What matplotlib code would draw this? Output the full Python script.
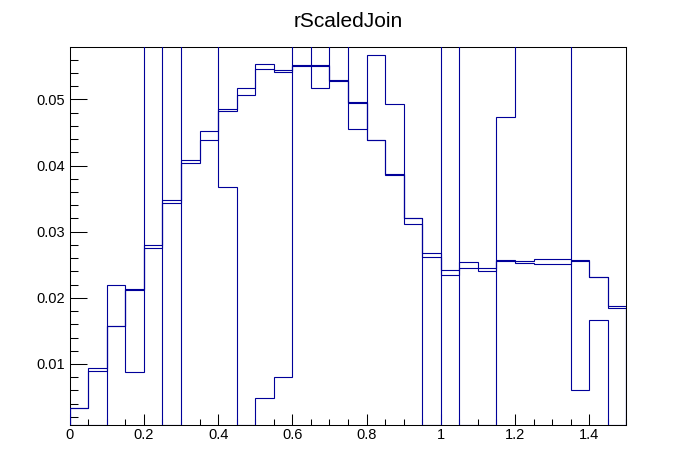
import numpy as np
import matplotlib
matplotlib.use("Agg")
import matplotlib.pyplot as plt
from matplotlib.ticker import MultipleLocator

plt.rcParams['font.family'] = ['Liberation Sans', 'DejaVu Sans']

title = "rScaledJoin"
x_low, x_high, n_bins = 0.0, 1.5, 30

# Two near-identical smooth histograms
h1 = [0.0034, 0.0094, 0.0157, 0.0213, 0.0280, 0.0348, 0.0409, 0.0452, 0.0485, 0.0517,
      0.0553, 0.0545, 0.0552, 0.0552, 0.0530, 0.0496, 0.0439, 0.0387, 0.0321, 0.0268,
      0.0242, 0.0254, 0.0245, 0.0257, 0.0256, 0.0258, 0.0258, 0.0257, 0.0231, 0.0187]
h2 = [0.0034, 0.0090, 0.0157, 0.0212, 0.0276, 0.0344, 0.0404, 0.0439, 0.0483, 0.0506,
      0.0546, 0.0541, 0.0551, 0.0551, 0.0528, 0.0495, 0.0438, 0.0386, 0.0311, 0.0262,
      0.0234, 0.0245, 0.0241, 0.0256, 0.0253, 0.0251, 0.0251, 0.0256, 0.0231, 0.0184]
# Spiky histogram (off-scale bins estimated above the frame)
h3 = [0.0, 0.0, 0.0219, 0.0088, 0.075, 0.0, 0.090, 0.085, 0.0367, 0.0,
      0.0048, 0.0081, 0.070, 0.0517, 0.065, 0.0456, 0.0567, 0.0493, 0.0321, 0.0,
      0.100, 0.0, 0.0, 0.0473, 0.080, 0.070, 0.090, 0.0060, 0.0166, 0.0]

x_ticks = [0, 0.2, 0.4, 0.6, 0.8, 1.0, 1.2, 1.4]
x_tick_labels = ["0", "0.2", "0.4", "0.6", "0.8", "1", "1.2", "1.4"]
y_ticks = [0.01, 0.02, 0.03, 0.04, 0.05]
y_tick_labels = ["0.01", "0.02", "0.03", "0.04", "0.05"]

y_min, y_max = 0.0008, 0.0579
line_color = "#000099"

fig = plt.figure(figsize=(6.96, 4.72), dpi=100)
ax = fig.add_axes([0.1, 0.1, 0.8, 0.8])

edges = np.linspace(x_low, x_high, n_bins + 1)
for h in (h1, h2, h3):
    vals = np.clip(np.asarray(h, dtype=float), y_min, None)
    ax.stairs(vals, edges, baseline=y_min, color=line_color, lw=0.8, zorder=3)

ax.set_xlim(x_low, x_high)
ax.set_ylim(y_min, y_max)

ax.set_xticks(x_ticks)
ax.set_xticklabels(x_tick_labels)
ax.set_yticks(y_ticks)
ax.set_yticklabels(y_tick_labels)
ax.xaxis.set_minor_locator(MultipleLocator(0.05))
ax.yaxis.set_minor_locator(MultipleLocator(0.002))

ax.tick_params(axis='both', which='both', direction='in', top=False, right=False,
               width=0.75, colors='black', labelsize=10.5)
ax.tick_params(axis='x', which='major', length=8.2, pad=2.5)
ax.tick_params(axis='x', which='minor', length=4.1)
ax.tick_params(axis='y', which='major', length=12, pad=3.3)
ax.tick_params(axis='y', which='minor', length=6)

for s in ax.spines.values():
    s.set_linewidth(0.75)
    s.set_color('black')
ax.spines['bottom'].set_zorder(1)

fig.text(0.5, 1 - 26.7 / 472, title, ha='center', va='baseline', fontsize=15)

fig.savefig("out.png", dpi=100)
